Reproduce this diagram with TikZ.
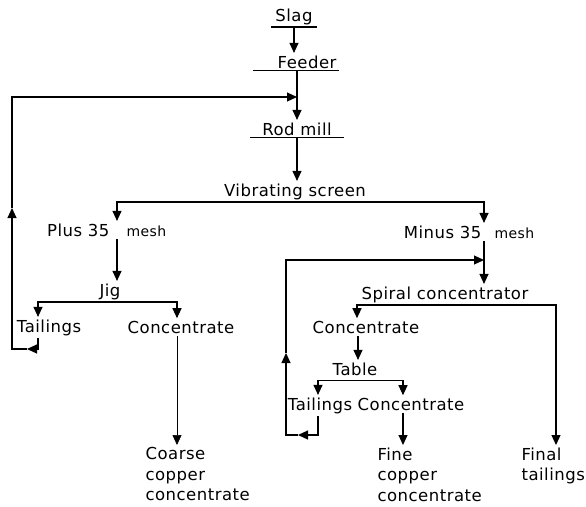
\documentclass[tikz,border=0pt]{standalone}
\usepackage{fontspec}
\setmainfont{DejaVu Sans}[LetterSpace=3]
\usetikzlibrary{arrows.meta, positioning, calc}
\tikzset{
  lbl/.style={inner sep=2pt, font=\fontsize{16.5}{20.5}\selectfont},
  mesh/.style={inner sep=2pt, font=\fontsize{14}{16}\selectfont},
  flow/.style={-{Triangle[length=10pt,width=9pt]}},
}

\begin{document}
\begin{tikzpicture}[x=1pt, y=-1pt, line width=1.1pt]
    \useasboundingbox (0,0) rectangle (586,506);
    % crushing line
    \node[lbl, minimum width=44pt, anchor=base] (slag) at (294,21) {Slag};
    \node[lbl, text width=81pt, align=right, anchor=base] (feeder) at (296,68) {Feeder};
    \node[lbl, minimum width=93pt, anchor=base] (rodmill) at (297,135) {Rod mill};
    \node[lbl, anchor=base] (vib) at (295,196) {Vibrating screen};
    \foreach \n in {slag, feeder, rodmill}
      \draw (\n.south west) -- (\n.south east);
    \coordinate (j1) at (297,97);
    \draw[flow] (slag.south) -- (slag.south |- feeder.north);
    \draw[flow] (feeder.south -| j1) -- (rodmill.north -| j1);
    \draw[flow] (rodmill.south) -- (rodmill.south |- vib.north);

    % plus 35 mesh
    \node[lbl, anchor=base east] (plus) at (112,236) {Plus 35};
    \node[mesh, base right=12pt of plus] (plusmesh) {mesh};
    \node[lbl, anchor=base] (jig) at (110,296) {Jig};
    \node[lbl, anchor=base] (jtail) at (49,332) {Tailings};
    \node[lbl, anchor=base] (jconc) at (181,333) {Concentrate};
    \node[lbl, align=left, anchor=north west] (coarse) at (143,445)
      {Coarse\\copper\\concentrate};
    \draw[flow] (vib.south) -| ([xshift=5pt]plus.north east);
    \draw[flow] ([xshift=5pt]plus.south east) -- ([xshift=5pt]plus.south east |- jig.north);
    \draw[flow] (jig.south) -| ([xshift=-11pt]jtail.north);
    \draw[flow] (jig.south) -| ([xshift=-4pt]jconc.north);
    \draw[flow, line width=0.7pt] ([xshift=-4pt]jconc.south) -- ([xshift=-4pt]jconc.south |- coarse.north);
    % jig tailings back to the mill
    \coordinate (lp1) at (27,349);
    \coordinate (lp2) at (12,208);
    \draw[flow] ([xshift=-11pt]jtail.south) |- (lp1);
    \draw[flow] (lp1) -| (lp2);
    \draw[flow] (lp2) |- (j1);

    % minus 35 mesh
    \node[lbl, anchor=base east] (minus) at (484,238) {Minus 35};
    \node[mesh, base right=8pt of minus] (minusmesh) {mesh};
    \node[lbl, anchor=base] (spiral) at (445,299) {Spiral concentrator};
    \node[lbl, anchor=base] (sconc) at (366,333) {Concentrate};
    \node[lbl, anchor=base] (table) at (355,375) {Table};
    \node[lbl, anchor=base] (ttail) at (320,410) {Tailings};
    \node[lbl, anchor=base] (tconc) at (411,410) {Concentrate};
    \node[lbl, align=left, anchor=north west] (fine) at (375,445)
      {Fine\\copper\\concentrate};
    \node[lbl, align=left, anchor=north west] (final) at (519,445)
      {Final\\tailings};
    \coordinate (j2) at (484,260);
    \draw[flow] (vib.south) -| (minus.north east);
    \draw[flow] (minus.south east) -- (minus.south east |- spiral.north);
    \draw[flow] (spiral.south) -| ([xshift=-9pt]sconc.north);
    \draw[flow] (spiral.south) -| ([xshift=37pt]final.north west);
    \draw[flow] ([xshift=-8pt]sconc.south) -- ([xshift=-8pt]sconc.south |- table.north);
    \draw[flow] ([yshift=-3pt]table.south) -| ([xshift=-2pt]ttail.north);
    \draw[flow] ([yshift=-3pt]table.south) -| ([xshift=-8pt]tconc.north);
    \draw[flow] ([xshift=-8pt]tconc.south) -- ([xshift=-8pt]tconc.south |- fine.north);
    % table tailings back to the spiral
    \coordinate (lp3) at (298,435);
    \coordinate (lp4) at (286,353);
    \draw[flow] ([xshift=-2pt]ttail.south) |- (lp3);
    \draw[flow] (lp3) -| (lp4);
    \draw[flow] (lp4) |- (j2);
\end{tikzpicture}
\end{document}
